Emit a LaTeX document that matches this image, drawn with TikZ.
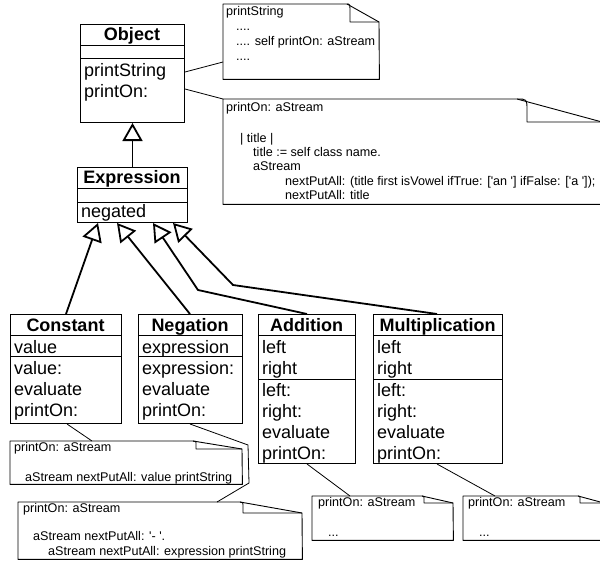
\documentclass[tikz,border=0pt]{standalone}
\usepackage{fontspec}
\setmainfont{Liberation Sans}
\usetikzlibrary{arrows.meta}
\newcommand\umlnote[8]{%
  \node[inner sep=0, minimum width={#4-#2}, minimum height={#5-#3}, anchor=north west] (#1) at (#2,#3) {};
  \draw[noteline] (#1.north west) -- (#6,#3) -- (#4,#7) -- (#1.south east) -- (#1.south west) -- cycle;
  \draw[noteline] (#6,#3) .. controls ({#6+#8},#3) .. ({#6+#8},{#3+(#7-#3)*0.5}) -- ({#6+#8},#7) -- (#4,#7);
}
\tikzset{
  classbox/.style={draw, line width=1pt, inner sep=0, anchor=north west},
  ctitle/.style={anchor=base, font=\fontsize{18}{21}\selectfont\bfseries, inner sep=0},
  citem/.style={anchor=base west, font=\fontsize{18}{21}\selectfont, inner sep=0},
  notetext/.style={anchor=base west, font=\fontsize{12.6}{15}\selectfont, inner sep=0},
  noteline/.style={line width=0.9pt, line join=round},
  notelink/.style={line width=0.8pt},
  divider/.style={line width=1pt},
  inherit/.style={line width=1.8pt, -{Triangle[open,length=18pt,width=20pt]}},
}
\begin{document}
\begin{tikzpicture}[x=1pt,y=-1pt]
\useasboundingbox (0,0) rectangle (600,562);
\clip (0,0) rectangle (600,562);

% ---------- classes ----------
\node[classbox, minimum width=104, minimum height=98] (object) at (80,24) {};
\draw[divider] ([yshift=-21pt]object.north west) -- ([yshift=-21pt]object.north east);
\draw[divider] ([yshift=-34pt]object.north west) -- ([yshift=-34pt]object.north east);
\node[ctitle] (objectT) at (132,40) {Object};
\node[citem] (objectA) at (84,76) {printString};
\node[citem] (objectB) at (84,97) {printOn:};

\node[classbox, minimum width=110, minimum height=55] (expression) at (77,167) {};
\draw[divider] ([yshift=-21pt]expression.north west) -- ([yshift=-21pt]expression.north east);
\draw[divider] ([yshift=-35pt]expression.north west) -- ([yshift=-35pt]expression.north east);
\node[ctitle] (expressionT) at (132,183) {Expression};
\node[citem] (expressionA) at (81,217) {negated};

\node[classbox, minimum width=111, minimum height=109] (constant) at (10,314) {};
\draw[divider] ([yshift=-21pt]constant.north west) -- ([yshift=-21pt]constant.north east);
\draw[divider] ([yshift=-42pt]constant.north west) -- ([yshift=-42pt]constant.north east);
\node[ctitle] (constantT) at (65.5,331) {Constant};
\node[citem] (constantA) at (14,353) {value};
\node[citem] (constantB) at (14,374) {value:};
\node[citem] (constantC) at (14,395) {evaluate};
\node[citem] (constantD) at (14,416) {printOn:};

\node[classbox, minimum width=104, minimum height=109] (negation) at (138,314) {};
\draw[divider] ([yshift=-21pt]negation.north west) -- ([yshift=-21pt]negation.north east);
\draw[divider] ([yshift=-42pt]negation.north west) -- ([yshift=-42pt]negation.north east);
\node[ctitle] (negationT) at (190,331) {Negation};
\node[citem] (negationA) at (142,353) {expression};
\node[citem] (negationB) at (142,374) {expression:};
\node[citem] (negationC) at (142,395) {evaluate};
\node[citem] (negationD) at (142,416) {printOn:};

\node[classbox, minimum width=97, minimum height=149] (addition) at (258,314) {};
\draw[divider] ([yshift=-21pt]addition.north west) -- ([yshift=-21pt]addition.north east);
\draw[divider] ([yshift=-65pt]addition.north west) -- ([yshift=-65pt]addition.north east);
\node[ctitle] (additionT) at (306.5,331) {Addition};
\node[citem] (additionA) at (262,353) {left};
\node[citem] (additionB) at (262,374) {right};
\node[citem] (additionC) at (262,396) {left:};
\node[citem] (additionD) at (262,417) {right:};
\node[citem] (additionE) at (262,438) {evaluate};
\node[citem] (additionF) at (262,459) {printOn:};

\node[classbox, minimum width=129, minimum height=149] (mult) at (373,314) {};
\draw[divider] ([yshift=-21pt]mult.north west) -- ([yshift=-21pt]mult.north east);
\draw[divider] ([yshift=-65pt]mult.north west) -- ([yshift=-65pt]mult.north east);
\node[ctitle] (multT) at (437.5,331) {Multiplication};
\node[citem] (multA) at (377,353) {left};
\node[citem] (multB) at (377,374) {right};
\node[citem] (multC) at (377,396) {left:};
\node[citem] (multD) at (377,417) {right:};
\node[citem] (multE) at (377,438) {evaluate};
\node[citem] (multF) at (377,459) {printOn:};

% ---------- inheritance ----------
\draw[inherit] (expression.north) -- (object.south);
\draw[inherit] ([xshift=56pt]constant.north west) -- ([xshift=21pt]expression.south west);
\draw[inherit] ([xshift=52pt]negation.north west) -- ([xshift=40pt]expression.south west);
\draw[inherit] ([xshift=49pt]addition.north west) -- (198,290) -- ([xshift=76pt]expression.south west);
\draw[inherit] ([xshift=64pt]mult.north west) -- (233,285) -- ([xshift=96pt]expression.south west);

% ---------- notes ----------
\umlnote{noteA}{223}{4}{379}{79}{347}{22}{3}
\node[notetext] (noteA1) at (226,15) {printString};
\node[notetext] (noteA2) at (236,30) {....};
\node[notetext] (noteA3) at (236,45) {.... self printOn: aStream};
\node[notetext] (noteA4) at (236,60) {....};

\umlnote{noteB}{223}{99}{602}{204}{517}{122}{10}
\node[notetext] (noteB1) at (226,111) {printOn: aStream};
\node[notetext] (noteB2) at (240,142) {| title |};
\node[notetext] (noteB3) at (253,156) {title := self class name.};
\node[notetext] (noteB4) at (253,170) {aStream};
\node[notetext] (noteB5) at (285,185) {nextPutAll: (title first isVowel ifTrue: [\textquotesingle an \textquotesingle] ifFalse: [\textquotesingle a \textquotesingle]);};
\node[notetext] (noteB6) at (285,199) {nextPutAll: title};

\umlnote{noteC}{10}{441}{242}{484}{193}{449}{3}
\node[notetext] (noteC1) at (14,451) {printOn: aStream};
\node[notetext] (noteC2) at (25,481) {aStream nextPutAll: value printString};

\umlnote{noteD}{18}{502}{302}{559}{240}{513}{3}
\node[notetext] (noteD1) at (23,512) {printOn: aStream};
\node[notetext] (noteD2) at (33,540) {aStream nextPutAll: \textquotesingle- \textquotesingle.};
\node[notetext] (noteD3) at (48,555) {aStream nextPutAll: expression printString};

\umlnote{noteE}{312}{496}{453}{540}{422}{503}{2}
\node[notetext] (noteE1) at (318,506) {printOn: aStream};
\node[notetext] (noteE2) at (328,536) {...};

\umlnote{noteF}{463}{496}{604}{540}{578}{503}{2}
\node[notetext] (noteF1) at (468,506) {printOn: aStream};
\node[notetext] (noteF2) at (479,536) {...};

% ---------- note links ----------
\draw[notelink] ([yshift=-48pt]object.north east) -- ([yshift=-58pt]noteA.north west);
\draw[notelink] ([yshift=-65pt]object.north east) -- (noteB.north west);
\draw[notelink] ([xshift=57pt]constant.south west) -- ([xshift=82pt]noteC.north west);
\draw[notelink] ([xshift=52pt]negation.south west) -- (248,445) -- (249,483) -- ([xshift=199pt]noteD.north west);
\draw[notelink] ([xshift=49pt]addition.south west) -- ([xshift=38pt]noteE.north west);
\draw[notelink] ([xshift=64pt]mult.south west) -- ([xshift=32pt]noteF.north west);
\end{tikzpicture}
\end{document}
